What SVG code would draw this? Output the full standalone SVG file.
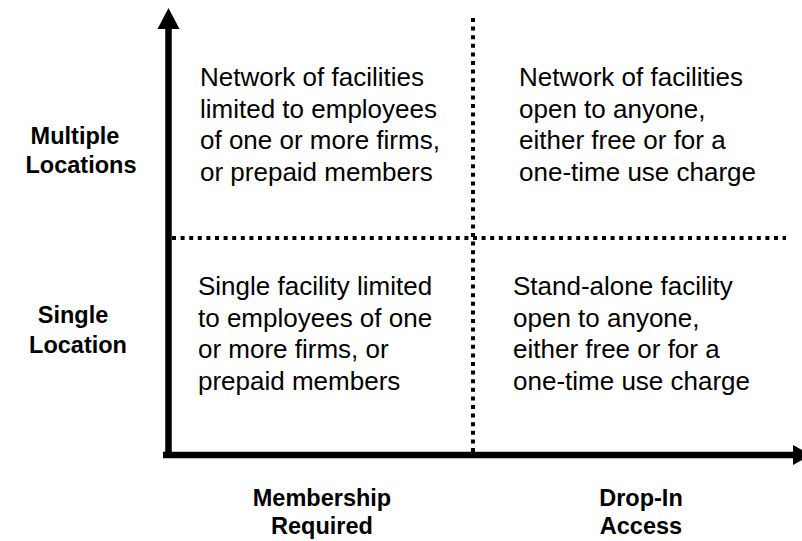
<svg xmlns="http://www.w3.org/2000/svg" width="802" height="541" viewBox="0 0 802 541">
  <style>
    .axis { stroke: #000; stroke-width: 6.5; fill: none; }
    .head { fill: #000; }
    .grid { stroke: #000; stroke-width: 4; stroke-dasharray: 4 4.6; fill: none; }
    .body { font-family: "Liberation Sans", Arial, sans-serif; font-size: 26px; fill: #000; }
    .lbl { font-family: "Liberation Sans", Arial, sans-serif; font-size: 23.5px; font-weight: bold; fill: #000; text-anchor: middle; }
  </style>
  <rect width="802" height="541" fill="#fff"/>

  <!-- axes and quadrant dividers -->
  <g id="connectors">
    <line class="axis" x1="168.5" y1="458" x2="168.5" y2="27"/>
    <polygon class="head" points="168.5,8 157.5,29 179.5,29"/>
    <line class="axis" x1="163" y1="455" x2="795" y2="455"/>
    <polygon class="head" points="811,455 793,445 793,465"/>
    <line class="grid" x1="473" y1="18" x2="473" y2="452"/>
    <line class="grid" x1="172" y1="238" x2="786" y2="238"/>
  </g>

  <!-- vertical axis labels -->
  <g id="y-multiple">
    <text class="lbl" x="75" y="144">Multiple</text>
    <text class="lbl" x="81" y="173">Locations</text>
  </g>
  <g id="y-single">
    <text class="lbl" x="73" y="323">Single</text>
    <text class="lbl" x="78" y="353">Location</text>
  </g>

  <!-- horizontal axis labels -->
  <g id="x-membership">
    <text class="lbl" x="322" y="506">Membership</text>
    <text class="lbl" x="322" y="534">Required</text>
  </g>
  <g id="x-dropin">
    <text class="lbl" x="641" y="506">Drop-In</text>
    <text class="lbl" x="641" y="534">Access</text>
  </g>

  <!-- quadrants -->
  <g id="q-top-left">
    <text class="body" x="200" y="86">Network of facilities</text>
    <text class="body" x="200" y="117.5">limited to employees</text>
    <text class="body" x="200" y="149">of one or more firms,</text>
    <text class="body" x="200" y="180.5">or prepaid members</text>
  </g>
  <g id="q-top-right">
    <text class="body" x="519" y="86">Network of facilities</text>
    <text class="body" x="519" y="117.5">open to anyone,</text>
    <text class="body" x="519" y="149">either free or for a</text>
    <text class="body" x="519" y="180.5">one-time use charge</text>
  </g>
  <g id="q-bottom-left">
    <text class="body" x="198" y="295">Single facility limited</text>
    <text class="body" x="198" y="326.5">to employees of one</text>
    <text class="body" x="198" y="358">or more firms, or</text>
    <text class="body" x="198" y="389.5">prepaid members</text>
  </g>
  <g id="q-bottom-right">
    <text class="body" x="513" y="295">Stand-alone facility</text>
    <text class="body" x="513" y="326.5">open to anyone,</text>
    <text class="body" x="513" y="358">either free or for a</text>
    <text class="body" x="513" y="389.5">one-time use charge</text>
  </g>
</svg>
